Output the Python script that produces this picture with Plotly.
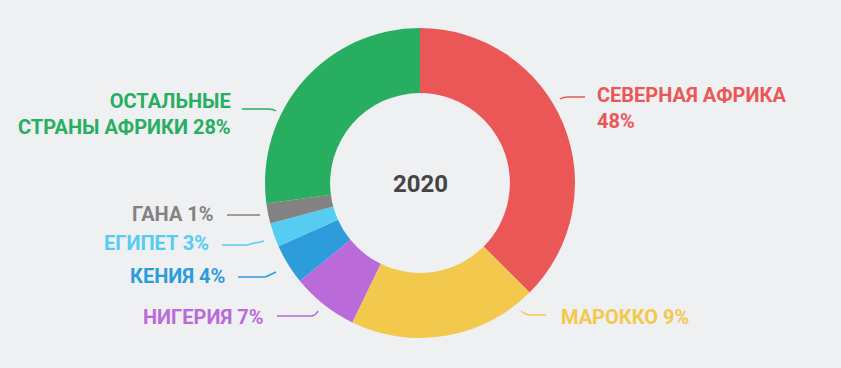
import plotly.graph_objects as go

# ---- data ----
regions = ["Северная Африка", "Марокко", "Нигерия", "Кения", "Египет", "Гана", "Остальные страны Африки"]
slice_values = [37.5, 19.7, 6.9, 4.2, 2.5, 2.1, 27.1]
label_texts = ["СЕВЕРНАЯ АФРИКА<br>48%", "МАРОККО 9%", "НИГЕРИЯ 7%", "КЕНИЯ 4%",
               "ЕГИПЕТ 3%", "ГАНА 1%", "ОСТАЛЬНЫЕ<br>СТРАНЫ АФРИКИ 28%"]
colors = ["#EB5757", "#F2C94C", "#BB6BD9", "#2D9CDB", "#56CCF2", "#828282", "#27AE60"]
center_title = "2020"

W, H = 841, 368
BG = "#EFF0F2"
FONT = "Roboto, sans-serif"

# ---- layout helpers (pixel positions) ----
label_pos = [
    (595, 108, "left"),
    (559, 317, "left"),
    (266, 317, "right"),
    (227, 276, "right"),
    (211, 243, "right"),
    (216, 214, "right"),
    (233, 114, "right"),
]
leaders = [
    "M 560 99 Q 563 97 568 97 L 585 97",
    "M 521 311 Q 525 315 532 315 L 546 315",
    "M 277 316 L 312 316 Q 316 315 318 311",
    "M 238 277 L 265 277 Q 270 275 276 272",
    "M 222 245 L 247 245 Q 255 243 264 241",
    "M 227 215 L 260 215",
    "M 242 109 L 268 109 Q 273 109 276 111",
]

fig = go.Figure()
fig.add_trace(go.Pie(
    labels=regions, values=slice_values, sort=False, direction="clockwise",
    rotation=0, hole=0.58, textinfo="none", hoverinfo="label",
    marker=dict(colors=colors, line=dict(width=0)),
    domain=dict(x=[265 / W, 575 / W], y=[30 / H, 340 / H]),
    showlegend=False,
))

shapes = []
for path, c in zip(leaders, colors):
    shapes.append(dict(type="path", path=path, xref="x", yref="y",
                       line=dict(color=c, width=1.5)))

annotations = []
for (x, y, xa), t, c in zip(label_pos, label_texts, colors):
    annotations.append(dict(x=x, y=y, xref="x", yref="y", text="<b>" + t + "</b>",
                            showarrow=False, xanchor=xa, yanchor="middle",
                            align=xa, font=dict(family=FONT, size=20, color=c)))
annotations.append(dict(x=420, y=184, xref="x", yref="y", text="<b>" + center_title + "</b>",
                        showarrow=False, xanchor="center", yanchor="middle",
                        font=dict(family=FONT, size=24, color="#444444")))

fig.update_layout(
    width=W, height=H, margin=dict(l=0, r=0, t=0, b=0),
    paper_bgcolor=BG, plot_bgcolor=BG,
    xaxis=dict(range=[0, W], visible=False, fixedrange=True),
    yaxis=dict(range=[H, 0], visible=False, fixedrange=True),
    shapes=shapes, annotations=annotations,
)
fig.write_html("out.html", config={"displayModeBar": False},
               post_script="document.body.style.margin='0';document.body.style.overflow='hidden';")
